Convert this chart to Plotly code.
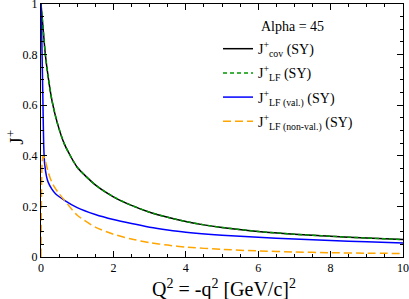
import plotly.graph_objects as go

# Q^2 values and curves
x_cov = [0, 0.03, 0.06, 0.12, 0.2, 0.3, 0.45, 0.65, 1.0, 1.5, 2.0, 2.5, 3.0, 3.5, 4.0, 4.5, 5, 6, 7, 8, 9, 10]
y_cov = [1.0, 0.95, 0.90, 0.80, 0.71, 0.62, 0.53, 0.445, 0.355, 0.285, 0.238, 0.204, 0.177, 0.157, 0.140, 0.127, 0.117, 0.101, 0.090, 0.082, 0.075, 0.069]

x_lf = x_cov
y_lf = y_cov

x_val = [0, 0.01, 0.02, 0.04, 0.055, 0.075, 0.1, 0.15, 0.2, 0.3, 0.4, 0.65, 1.0, 1.5, 2.0, 2.5, 3.0, 3.5, 4, 5, 6, 7, 8, 9, 10]
y_val = [1.0, 0.94, 0.88, 0.72, 0.60, 0.44, 0.37, 0.32, 0.295, 0.268, 0.25, 0.224, 0.195, 0.168, 0.148, 0.132, 0.118, 0.107, 0.098, 0.086, 0.078, 0.071, 0.065, 0.060, 0.055]

x_nonval = [0, 0.01, 0.03, 0.06, 0.1, 0.2, 0.3, 0.4, 0.5, 0.65, 1.0, 1.5, 2.0, 2.5, 3.0, 3.5, 4, 5, 6, 7, 8, 9, 10]
y_nonval = [0.0, 0.2, 0.37, 0.40, 0.39, 0.335, 0.295, 0.27, 0.25, 0.224, 0.165, 0.118, 0.090, 0.071, 0.057, 0.047, 0.039, 0.030, 0.024, 0.020, 0.017, 0.015, 0.014]

x_ticks = [0, 2, 4, 6, 8, 10]
y_ticks = [0, 0.2, 0.4, 0.6, 0.8, 1]
y_tick_text = ["0", "0.2", "0.4", "0.6", "0.8", "1"]

FONT = "Liberation Serif, DejaVu Serif, serif"

fig = go.Figure()
fig.add_trace(go.Scatter(x=x_cov, y=y_cov, mode="lines", legendgroup="a",
                         line=dict(color="black", width=1.5, shape="spline", smoothing=0.6),
                         name="J<sup>+</sup><sub>cov</sub> (SY)"))
fig.add_trace(go.Scatter(x=x_lf, y=y_lf, mode="lines", legendgroup="b",
                         line=dict(color="#009600", width=1.5, dash="4px,3px", shape="spline", smoothing=0.6),
                         name="J<sup>+</sup><sub>LF</sub> (SY)"))
fig.add_trace(go.Scatter(x=x_val, y=y_val, mode="lines", legendgroup="c",
                         line=dict(color="#0000ff", width=1.5, shape="spline", smoothing=0.6),
                         name="J<sup>+</sup><sub>LF (val.)</sub> (SY)"))
fig.add_trace(go.Scatter(x=x_nonval, y=y_nonval, mode="lines", legendgroup="d",
                         line=dict(color="#ffa500", width=1.5, dash="8px,4px", shape="spline", smoothing=0.6),
                         name="J<sup>+</sup><sub>LF (non-val.)</sub> (SY)"))

axis_common = dict(showline=True, linecolor="black", linewidth=1, mirror="ticks", ticks="inside",
                   tickcolor="black", ticklen=6, tickwidth=1, showgrid=False, zeroline=False,
                   automargin=False, ticklabeloverflow="allow",
                   tickfont=dict(family=FONT, size=12, color="black"))

fig.update_layout(
    width=409, height=299,
    margin=dict(l=41, r=6, t=4, b=42),
    plot_bgcolor="white", paper_bgcolor="white",
    font=dict(family=FONT, color="black"),
    xaxis=dict(range=[0, 10], tickvals=x_ticks, **axis_common,
               minor=dict(ticks="inside", ticklen=3, tickcolor="black", dtick=0.5)),
    yaxis=dict(range=[0, 1], tickvals=y_ticks, ticktext=y_tick_text, **axis_common,
               minor=dict(ticks="inside", ticklen=3, tickcolor="black", dtick=0.05)),
    legend=dict(x=0.489, y=0.885, xanchor="left", yanchor="top", bgcolor="rgba(0,0,0,0)",
                font=dict(family=FONT, size=14), tracegroupgap=3, traceorder="grouped"),
    showlegend=True,
    annotations=[
        dict(text="Alpha = 45", x=0.602, y=0.912, xref="paper", yref="paper", xanchor="left", yanchor="middle",
             showarrow=False, font=dict(family=FONT, size=14)),
        dict(text="Q<sup>2</sup> = -q<sup>2</sup> [GeV/c]<sup>2</sup>", x=0.505, y=-0.125, xref="paper", yref="paper",
             xanchor="center", yanchor="middle", showarrow=False, font=dict(family=FONT, size=20)),
        dict(text="J<sup>+</sup>", x=-0.072, y=0.475, xref="paper", yref="paper", xanchor="center", yanchor="middle",
             textangle=-90, showarrow=False, font=dict(family=FONT, size=19)),
    ],
)

fig.write_html("out.html", config={"displayModeBar": False},
               post_script="document.body.style.margin='0';document.body.style.overflow='hidden';")
